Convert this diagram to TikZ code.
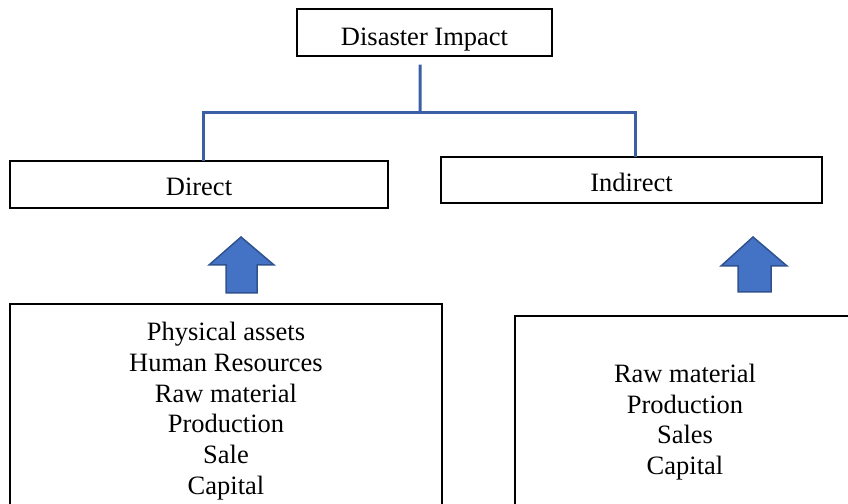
\documentclass[tikz,border=0pt]{standalone}
\usepackage{fontspec}
\setmainfont{Liberation Serif}
\definecolor{connblue}{RGB}{59,95,165}
\definecolor{arrfill}{RGB}{68,114,196}
\definecolor{arrdraw}{RGB}{47,82,143}
\begin{document}
\begin{tikzpicture}[x=1bp,y=-1bp,
  txt/.style={font=\fontsize{26.5bp}{30.7bp}\selectfont},
  box/.style={draw=black, line width=1.5bp, inner sep=0pt, txt, text depth=0pt},
  conn/.style={draw=connblue, line width=3bp},
  uparrow/.style={fill=arrfill, draw=arrdraw, line width=1.5bp, line join=miter}]
\useasboundingbox (0,0) rectangle (848,504);
% top box
\node[box, minimum width=255bp, minimum height=47bp, text height=27bp] (top) at (424.5,32.5) {Disaster Impact};
% level-2 boxes
\node[box, minimum width=378bp, minimum height=47bp, text height=23bp] (direct) at (199,184.5) {Direct};
\node[box, minimum width=381bp, minimum height=46bp, text height=24bp] (indirect) at (631.5,180) {Indirect};
% connectors
\coordinate (j) at (420,113);
\draw[conn] ([xshift=-4.5bp,yshift=-8bp]top.south) -- (j);
\draw[conn] ([xshift=4bp,yshift=-1bp]direct.north) |- (j) -| ([xshift=3.5bp,yshift=-1bp]indirect.north);
% up arrows
\draw[uparrow] (241,237) -- (274,265) -- (257,265) -- (257,293) -- (226,293) -- (226,265) -- (209,265) -- cycle;
\draw[uparrow] (753,237) -- (787,266) -- (771,266) -- (771,292) -- (738,292) -- (738,266) -- (721,266) -- cycle;
% bottom boxes (open at the bottom edge of the picture)
\draw[black, line width=1.5bp] (10,504) -- (10,304) -- (442,304) -- (442,504);
\draw[black, line width=1.5bp] (515,504) -- (515,316) -- (848,316);
\node[txt, align=center, inner sep=0pt] (dlist) at (226,411) {Physical assets\\Human Resources\\Raw material\\Production\\Sale\\Capital};
\node[txt, align=center, inner sep=0pt] (ilist) at (685,422) {Raw material\\Production\\Sales\\Capital};
\end{tikzpicture}
\end{document}
